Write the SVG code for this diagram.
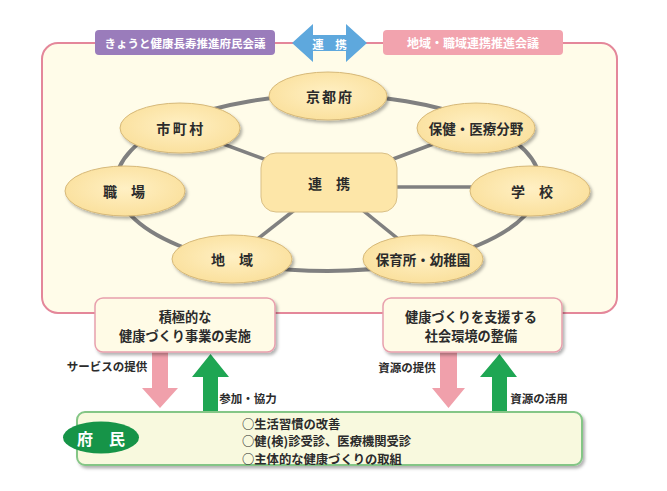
<svg xmlns="http://www.w3.org/2000/svg" width="667" height="491" viewBox="0 0 667 491">
<defs>
<filter id="sh" x="-20%" y="-20%" width="140%" height="150%">
<feDropShadow dx="2" dy="2.5" stdDeviation="1.5" flood-color="#000" flood-opacity="0.3"/>
</filter>
<radialGradient id="eg" cx="50%" cy="45%" r="60%">
<stop offset="0" stop-color="#fff0c4"/>
<stop offset="1" stop-color="#fadf9a"/>
</radialGradient>
</defs>
<style>
text{font-family:"Noto Sans CJK JP","Noto Sans CJK SC",sans-serif;font-weight:bold;fill:#2b2b2b;text-anchor:middle;dominant-baseline:central}
.ell{fill:url(#eg);stroke:#d6b878;stroke-width:1;filter:url(#sh)}
.n{font-size:14px}
.w{fill:#fff}
.lb{font-size:11.5px}
.box{fill:#fffbe6;stroke:#e8a0ad;stroke-width:1.5;filter:url(#sh)}
.ring{fill:none;stroke:#808080;stroke-width:4}
.spoke{stroke:#808080;stroke-width:3.5}
.pk{fill:#f0a0ab}
.gr{fill:#1fa653}
</style>
<rect id="frame" x="42" y="43" width="575" height="270" rx="16" fill="#fffce9" stroke="#e4879a" stroke-width="2"/>
<g id="connectors">
<ellipse class="ring" cx="328" cy="183" rx="212" ry="88"/>
<line class="spoke" x1="329" y1="183" x2="180" y2="128"/>
<line class="spoke" x1="329" y1="183" x2="232" y2="259"/>
<line class="spoke" x1="329" y1="183" x2="476" y2="128"/>
<line class="spoke" x1="329" y1="187" x2="530" y2="187"/>
<line class="spoke" x1="329" y1="183" x2="423" y2="259"/>
<polygon class="pk" points="152,352 168,352 168,388 178,388 160,408 142,388 152,388"/>
<polygon class="gr" points="210.5,354 229,377 218,377 218,413 203,413 203,377 192,377"/>
<polygon class="pk" points="440,352 457,352 457,388 465,388 448.5,408 432,388 440,388"/>
<polygon class="gr" points="499.5,354 517,377 507,377 507,413 492,413 492,377 480,377"/>
<g id="link-top">
<polygon points="292,43 313,24 313,35 346,35 346,24 367,43 346,62 346,51 313,51 313,62" fill="#5ea8dd"/>
<text class="w" x="329.5" y="43.5" font-size="11.5">連　携</text>
</g>
</g>
<g id="hdr-left">
<rect x="95" y="30" width="180" height="25" rx="4" fill="#9a7cbb"/>
<text class="w" x="185" y="42.5" font-size="11.5">きょうと健康長寿推進府民会議</text>
</g>
<g id="hdr-right">
<rect x="383" y="30" width="180" height="25" rx="4" fill="#f2a3ae"/>
<text class="w" x="473" y="42.5" font-size="12">地域・職域連携推進会議</text>
</g>
<g id="kyotofu"><ellipse class="ell" cx="328" cy="96" rx="59" ry="24"/><text class="n" x="330" y="96" letter-spacing="2">京都府</text></g>
<g id="shichoson"><ellipse class="ell" cx="180" cy="128" rx="60" ry="25"/><text class="n" x="181" y="128" letter-spacing="2.5">市町村</text></g>
<g id="shokuba"><ellipse class="ell" cx="125" cy="191" rx="60" ry="25"/><text class="n" x="124" y="191">職　場</text></g>
<g id="chiiki"><ellipse class="ell" cx="232" cy="259" rx="60" ry="24"/><text class="n" x="232" y="259">地　域</text></g>
<g id="hoken"><ellipse class="ell" cx="476" cy="128" rx="59" ry="25"/><text x="476" y="128" font-size="13.5">保健・医療分野</text></g>
<g id="gakko"><ellipse class="ell" cx="530" cy="191" rx="60" ry="25"/><text class="n" x="532" y="191">学　校</text></g>
<g id="hoikusho"><ellipse class="ell" cx="423" cy="259" rx="60" ry="24"/><text x="423" y="259" font-size="13.5">保育所・幼稚園</text></g>
<g id="renkei"><rect x="261" y="153" width="136" height="59" rx="15" fill="#fde6a8" stroke="#d9bf86" stroke-width="1"/><text class="n" x="329" y="182.5">連　携</text></g>
<g id="jigyo"><rect class="box" x="95" y="298" width="180" height="54" rx="8"/><text font-size="13.2"><tspan x="185" y="315.5">積極的な</tspan><tspan x="185" y="334.8">健康づくり事業の実施</tspan></text></g>
<g id="kankyo"><rect class="box" x="383" y="298" width="179" height="54" rx="8"/><text font-size="13.2"><tspan x="471" y="315.5">健康づくりを支援する</tspan><tspan x="471" y="334.8">社会環境の整備</tspan></text></g>
<g id="labels">
<text class="lb" x="107" y="366">サービスの提供</text>
<text class="lb" x="248" y="398">参加・協力</text>
<text class="lb" x="407" y="367">資源の提供</text>
<text class="lb" x="539" y="398">資源の活用</text>
</g>
<g id="fumin">
<rect x="77" y="412" width="505" height="53" rx="8" fill="#f8f9de" stroke="#84c686" stroke-width="2" filter="url(#sh)"/>
<ellipse cx="101" cy="437.5" rx="38" ry="16" fill="#169448"/>
<text class="w" x="101" y="437.5" font-size="16">府　民</text>
<text font-size="12.3" style="text-anchor:start"><tspan x="242" y="423.5">○生活習慣の改善</tspan><tspan x="242" y="441.3">○健(検)診受診、医療機関受診</tspan><tspan x="242" y="459.1">○主体的な健康づくりの取組</tspan></text>
</g>
</svg>
